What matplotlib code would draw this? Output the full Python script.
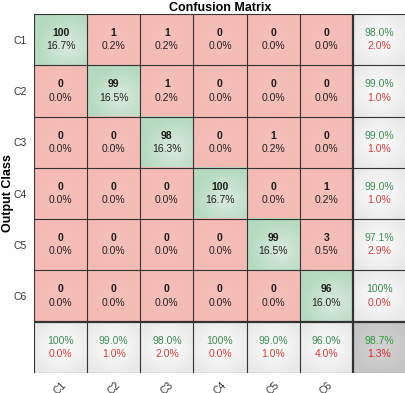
import numpy as np
import matplotlib
matplotlib.use("Agg")
from matplotlib import pyplot as plt
from matplotlib.colors import to_rgb

plt.rcParams['font.family'] = ['Liberation Sans', 'DejaVu Sans']

classes = ['C1', 'C2', 'C3', 'C4', 'C5', 'C6']
# rows = output class, columns = target class
counts = np.array([
    [100, 1, 1, 0, 0, 0],
    [0, 99, 1, 0, 0, 0],
    [0, 0, 98, 0, 1, 0],
    [0, 0, 0, 100, 0, 1],
    [0, 0, 0, 0, 99, 3],
    [0, 0, 0, 0, 0, 96],
])

n = len(classes)
total = counts.sum()


def pct(v):
    return "100%" if round(v, 1) == 100 else "%.1f%%" % v


def cell(ax, x, y, edge, center, power=1.5, cx=0.0, cy=0.0):
    # radial shading like the MATLAB plotconfusion cells
    g = np.linspace(-1, 1, 40)
    xx, yy = np.meshgrid(g, g)
    r = np.clip(np.sqrt((xx - cx) ** 2 + (yy - cy) ** 2) / 1.2, 0, 1) ** power
    e = np.array(to_rgb(edge))
    c = np.array(to_rgb(center))
    img = c[None, None, :] * (1 - r[..., None]) + e[None, None, :] * r[..., None]
    ax.imshow(img, extent=(x, x + 1, y + 1, y), interpolation='bilinear', zorder=1)


fig = plt.figure(figsize=(4.06, 3.93), dpi=100)
ax = fig.add_axes([34 / 406, 20 / 393, 372 / 406, 359 / 393])

green_txt = '#3c8c50'
red_txt = '#d83a3a'

for i in range(n):
    for j in range(n):
        if i == j:
            cell(ax, j, i, '#b5dabf', '#dcebe0', power=0.9, cx=0.25, cy=0.25)
        else:
            cell(ax, j, i, '#f4bab4', '#f6c0ba', power=1)
        ax.text(j + 0.5, i + 0.37, str(counts[i, j]), ha='center', va='center',
                fontsize=7.5, fontweight='bold', color='#1a1a1a', zorder=3)
        ax.text(j + 0.5, i + 0.63, "%.1f%%" % (100 * counts[i, j] / total), ha='center',
                va='center', fontsize=7.5, color='#222222', zorder=3)

# row summaries (precision of output class)
for i in range(n):
    acc = 100 * counts[i, i] / counts[i, :].sum()
    cell(ax, n, i, '#e8e8e8', '#fcfcfc', power=1.2)
    ax.text(n + 0.5, i + 0.37, pct(acc), ha='center', va='center', fontsize=7.5, color=green_txt, zorder=3)
    ax.text(n + 0.5, i + 0.63, pct(100 - acc), ha='center', va='center', fontsize=7.5, color=red_txt, zorder=3)

# column summaries (recall of target class)
for j in range(n):
    acc = 100 * counts[j, j] / counts[:, j].sum()
    cell(ax, j, n, '#e8e8e8', '#fcfcfc', power=1.2)
    ax.text(j + 0.5, n + 0.37, pct(acc), ha='center', va='center', fontsize=7.5, color=green_txt, zorder=3)
    ax.text(j + 0.5, n + 0.63, pct(100 - acc), ha='center', va='center', fontsize=7.5, color=red_txt, zorder=3)

overall = 100 * np.trace(counts) / total
cell(ax, n, n, '#c4c4c4', '#d2d2d2', power=1)
ax.text(n + 0.5, n + 0.37, pct(overall), ha='center', va='center', fontsize=7.5, color='#2f9a3a', zorder=3)
ax.text(n + 0.5, n + 0.63, pct(100 - overall), ha='center', va='center', fontsize=7.5, color='#e02828', zorder=3)

# grid lines
for k in range(n + 2):
    lw = 1.6 if k == n else 0.8
    ax.plot([k, k], [0, n + 1], color='#333333', lw=lw, zorder=2)
    ax.plot([0, n + 1], [k, k], color='#333333', lw=lw, zorder=2)

ax.set_xlim(0, n + 1)
ax.set_ylim(n + 1, 0)
ax.set_aspect('auto')
ax.set_xticks(np.arange(n) + 0.5)
ax.set_xticklabels(classes, rotation=45, fontsize=7.5, color='#333333')
ax.set_yticks(np.arange(n) + 0.5)
ax.set_yticklabels(classes, fontsize=7.5, color='#333333')
ax.tick_params(axis='y', length=0, pad=5)
ax.tick_params(axis='x', length=0, pad=5)
for s in ax.spines.values():
    s.set_visible(False)

ax.set_title('Confusion Matrix', fontsize=9, fontweight='bold', pad=1)
fig.text(8 / 406, 1 - 193 / 393, 'Output Class', rotation=90, ha='center', va='center',
         fontsize=9, fontweight='bold')

fig.savefig('out.png', dpi=100)
